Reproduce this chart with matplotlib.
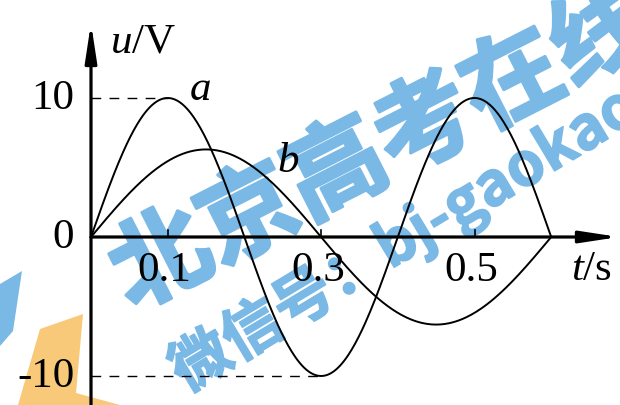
import numpy as np
import matplotlib
matplotlib.use("Agg")
import matplotlib.pyplot as plt
import matplotlib.patheffects as pe

# curve data
curve_names = ["a", "b"]
amplitudes = [10, 6.3]        # V
periods = [0.4, 0.6]          # s
t_end = 0.6                   # both curves stop here
t_ticks = [0.1, 0.3, 0.5]
u_ticks = [10, 0, -10]

W, H = 620, 406
# pixel layout of the original picture
x0px, px_per_t = 91, 767
y0px, px_per_u = 238, 13.9

plt.rcParams["font.family"] = ["Liberation Serif", "DejaVu Serif"]
plt.rcParams["mathtext.fontset"] = "custom"
plt.rcParams["mathtext.rm"] = "Liberation Serif"
plt.rcParams["mathtext.it"] = "Liberation Serif:italic"

fig = plt.figure(figsize=(W / 100, H / 100), dpi=100)
ax = fig.add_axes([0, 0, 1, 1])
ax.set_xlim(-x0px / px_per_t, (W - x0px) / px_per_t)
ax.set_ylim((y0px - H) / px_per_u, y0px / px_per_u)
ax.axis("off")

def tpx(x):
    return (x - x0px) / px_per_t

def upx(y):
    return (y0px - y) / px_per_u

# watermark (behind everything)
wm_blue = "#7ab9e6"
ax.text(118 / W, 1 - 285 / H, "北京高考在线", transform=ax.transAxes,
        rotation=27, rotation_mode="anchor", ha="left", va="center",
        fontsize=71, fontweight="bold", color=wm_blue,
        path_effects=[pe.withStroke(linewidth=2.2, foreground=wm_blue)],
        family=["Noto Sans CJK SC", "DejaVu Sans"], zorder=0.5)
ax.text(176 / W, 1 - 378 / H, "微信号：bj-gaokao", transform=ax.transAxes,
        rotation=31, rotation_mode="anchor", ha="left", va="center",
        fontsize=43, fontweight="bold", color=wm_blue,
        path_effects=[pe.withStroke(linewidth=1.2, foreground=wm_blue)],
        family=["Noto Sans CJK SC", "DejaVu Sans"], zorder=0.5)
ax.fill([0, 22 / W, 13 / W, 0], [1 - 285 / H, 1 - 272 / H, 1 - 332 / H, 1 - 347 / H],
        color=wm_blue, lw=0, transform=ax.transAxes, zorder=0.4)
ax.fill([40 / W, 83 / W, 76 / W, 120 / W, 18 / W],
        [1 - 330 / H, 1 - 315 / H, 1 - 394 / H, 1 - 406 / H, 1 - 406 / H],
        color="#f9c97a", lw=0, transform=ax.transAxes, zorder=0.4)

# axes with arrows
ylo = ax.get_ylim()[0]
arrow = dict(arrowstyle="-|>,head_length=2.3,head_width=0.35", color="black",
             lw=2.3, mutation_scale=10, shrinkA=0, shrinkB=0)
ax.annotate("", xy=(tpx(619), 0), xytext=(0, 0), arrowprops=arrow, zorder=4)
ax.annotate("", xy=(0, upx(24)), xytext=(0, ylo), arrowprops=arrow, zorder=4)

# small ticks on the t axis
for t in t_ticks:
    ax.plot([t, t], [0, 0.5], color="black", lw=1.2, zorder=4)
    ax.text(t - 0.004, -2.35, f"{t:g}", ha="center", va="center", fontsize=31)

for u in u_ticks:
    ax.text(-0.022, u, f"{u:g}", ha="right", va="center", fontsize=31)

# curves
t = np.linspace(0, t_end, 400)
for amp, per in zip(amplitudes, periods):
    ax.plot(t, amp * np.sin(2 * np.pi * t / per), color="black", lw=1.4, zorder=3)

# dashed guides to the peak and trough of curve a
ta = periods[0] / 4
ax.plot([0, ta], [amplitudes[0], amplitudes[0]], color="black", lw=1.0,
        dashes=(7, 6), zorder=3)
ax.plot([0, 3 * ta], [-amplitudes[0], -amplitudes[0]], color="black", lw=1.0,
        dashes=(7, 6), zorder=3)

# curve names and axis labels
ax.text(tpx(200), upx(90), "$" + curve_names[0] + "$", ha="center", va="center", fontsize=31)
ax.text(tpx(288), upx(162), "$" + curve_names[1] + "$", ha="center", va="center", fontsize=31)
ax.text(tpx(143), upx(42), "$u$/V", ha="center", va="center", fontsize=31)
ax.text(tpx(592), upx(270), "$t$/s", ha="center", va="center", fontsize=31)

fig.savefig("out.png", dpi=100)
